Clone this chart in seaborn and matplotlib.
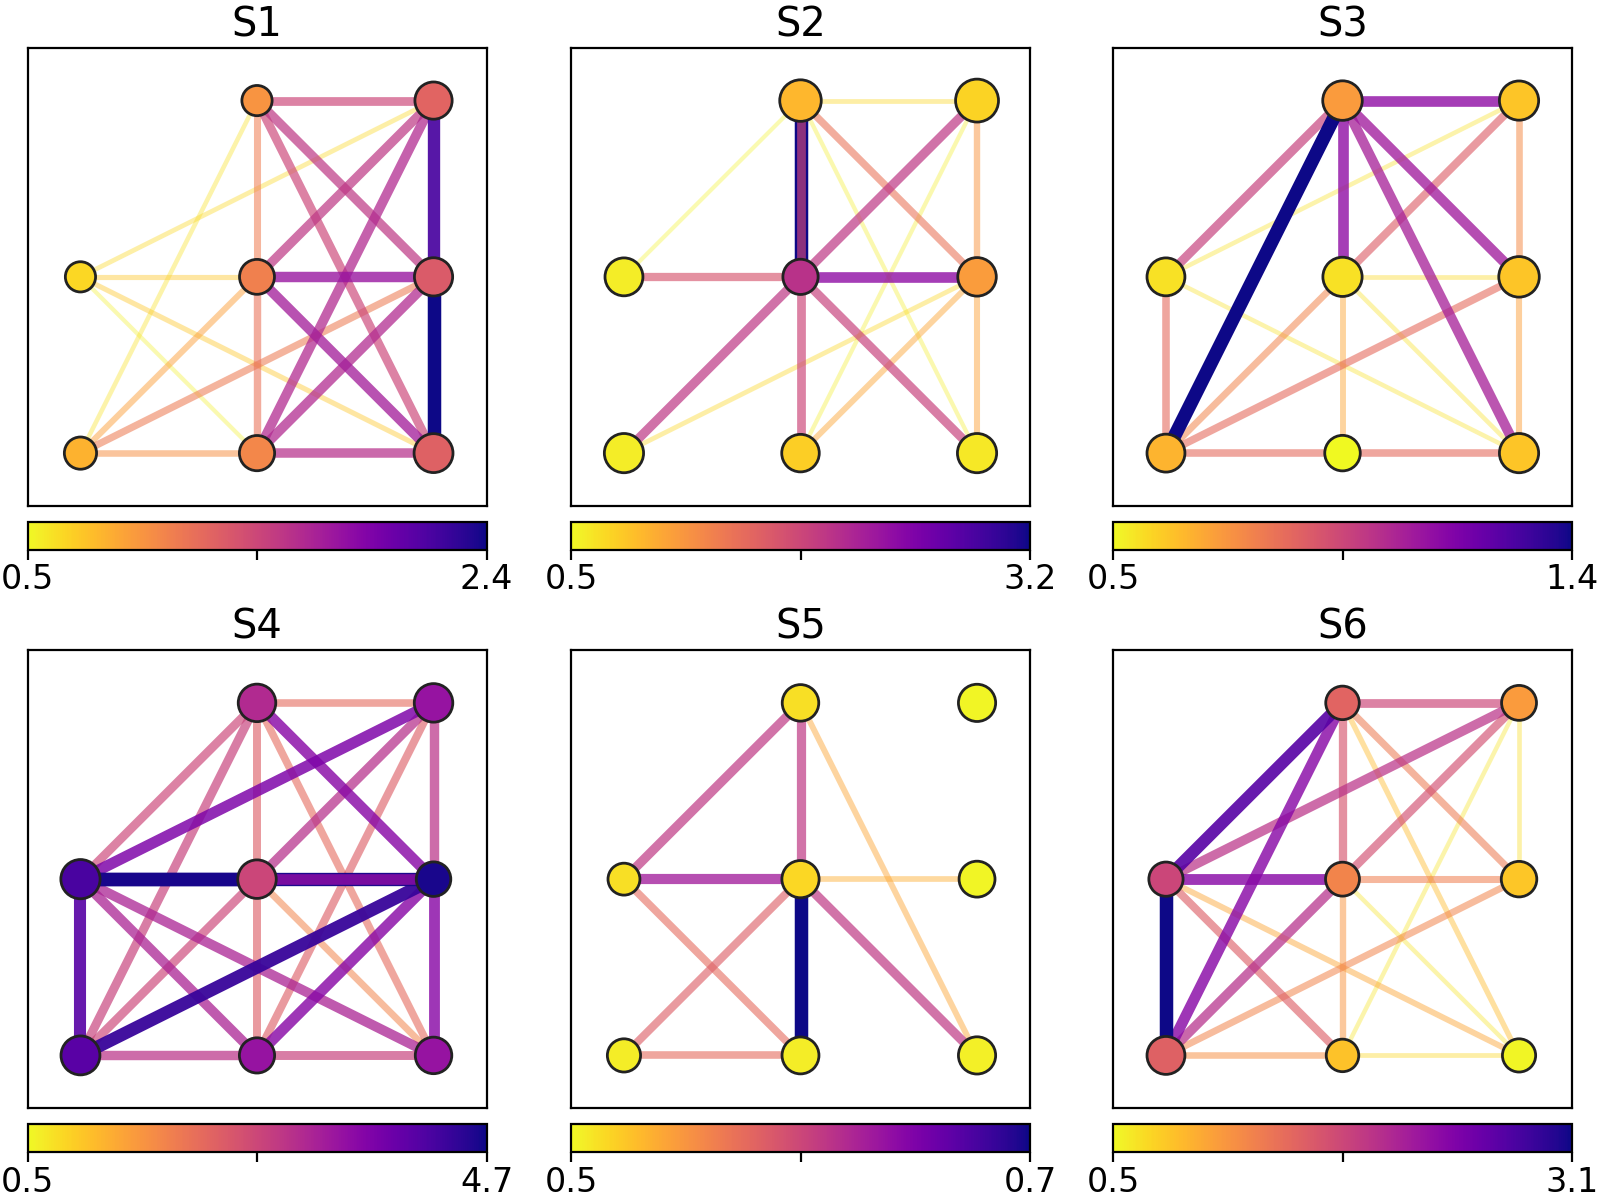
import matplotlib
matplotlib.use("Agg")
import matplotlib.pyplot as plt
from matplotlib.colors import Normalize
from matplotlib.cm import ScalarMappable
import seaborn as sns

# Nodi sulla griglia 3x3 (manca l'angolo in alto a sinistra)
node_names = ["A", "B", "C", "D", "E", "F", "G", "H"]
node_x = [0, 0, 1, 1, 1, 2, 2, 2]
node_y = [1, 0, 2, 1, 0, 2, 1, 0]

titles = ["S1", "S2", "S3", "S4", "S5", "S6"]
vmin = 0.5
vmaxs = [2.4, 3.2, 1.4, 4.7, 0.7, 3.1]

# Archi (nodo, nodo, peso) nell'ordine di disegno
s1_edges = [("A", "E", 0.54), ("B", "C", 0.61), ("A", "F", 0.65), ("A", "D", 0.73),
            ("A", "H", 0.73), ("B", "D", 0.92), ("B", "E", 1.01), ("C", "D", 1.11),
            ("B", "G", 1.13), ("D", "E", 1.18), ("C", "F", 1.45), ("C", "H", 1.45),
            ("C", "G", 1.55), ("D", "F", 1.55), ("E", "H", 1.60), ("E", "F", 1.64),
            ("E", "G", 1.64), ("D", "H", 1.72), ("D", "G", 1.79), ("F", "G", 2.17),
            ("G", "H", 2.40)]
s2_edges = [("A", "C", 0.55), ("C", "H", 0.58), ("E", "F", 0.58), ("C", "F", 0.72),
            ("B", "G", 0.72), ("E", "G", 1.04), ("G", "H", 1.09), ("F", "G", 1.18),
            ("C", "G", 1.45), ("A", "D", 1.72), ("D", "H", 1.90), ("D", "F", 1.99),
            ("B", "D", 1.99), ("D", "G", 2.39), ("C", "D", 3.20), ("C", "E", 1.85)]
s3_edges = [("A", "F", 0.55), ("D", "H", 0.55), ("A", "H", 0.55), ("D", "G", 0.57),
            ("D", "E", 0.68), ("G", "H", 0.70), ("F", "G", 0.75), ("B", "D", 0.77),
            ("A", "B", 0.84), ("B", "E", 0.84), ("E", "H", 0.84), ("B", "G", 0.84),
            ("D", "F", 0.88), ("A", "C", 0.97), ("C", "H", 1.07), ("C", "G", 1.09),
            ("C", "D", 1.13), ("C", "F", 1.13), ("B", "C", 1.40)]
s4_edges = [("D", "H", 1.76), ("C", "F", 2.10), ("C", "H", 2.10), ("C", "D", 2.26),
            ("D", "E", 2.26), ("E", "F", 2.26), ("A", "C", 2.60), ("B", "D", 2.60),
            ("B", "C", 2.68), ("E", "H", 2.68), ("B", "E", 2.89), ("F", "G", 2.89),
            ("D", "F", 2.94), ("A", "E", 3.10), ("A", "H", 3.10), ("C", "G", 3.52),
            ("G", "H", 3.52), ("E", "G", 3.52), ("A", "F", 3.65), ("A", "B", 4.07),
            ("B", "G", 4.36), ("A", "D", 4.70), ("A", "G", 4.62), ("D", "G", 3.44)]
s5_edges = [("D", "G", 0.536), ("C", "H", 0.54), ("A", "E", 0.576), ("B", "E", 0.576),
            ("B", "D", 0.584), ("A", "C", 0.61), ("C", "D", 0.61), ("D", "H", 0.61),
            ("A", "D", 0.63), ("D", "E", 0.70)]
s6_edges = [("D", "H", 0.63), ("E", "F", 0.63), ("F", "G", 0.68), ("E", "H", 0.71),
            ("C", "H", 0.89), ("A", "H", 1.02), ("D", "E", 1.15), ("B", "E", 1.20),
            ("B", "G", 1.28), ("D", "G", 1.33), ("C", "G", 1.36), ("A", "E", 1.59),
            ("C", "D", 1.67), ("D", "F", 1.72), ("C", "F", 1.80), ("A", "F", 1.98),
            ("B", "D", 2.01), ("A", "D", 2.37), ("B", "C", 2.37), ("A", "C", 2.71),
            ("A", "B", 3.10)]

# Valore e dimensione (diametro in px) dei nodi, ordine A..H
s1_nodes = [0.65, 0.82, 0.98, 1.09, 1.05, 1.26, 1.32, 1.28]
s2_nodes = [0.58, 0.58, 0.93, 2.04, 0.77, 0.74, 1.12, 0.61]
s3_nodes = [0.55, 0.65, 0.71, 0.55, 0.50, 0.61, 0.61, 0.61]
s4_nodes = [4.20, 4.03, 3.02, 2.60, 3.36, 3.36, 4.62, 3.36]
s5_nodes = [0.512, 0.506, 0.512, 0.516, 0.506, 0.502, 0.502, 0.504]
s6_nodes = [1.80, 1.57, 1.54, 1.28, 0.84, 1.10, 0.81, 0.53]

s1_size = [33, 35, 33, 37.7, 38, 40, 41, 41.7]
s2_size = [40.7, 42, 44.3, 38, 40.3, 45.7, 41.3, 42]
s3_size = [40.7, 40.7, 42.3, 42, 38.3, 42, 43.3, 42]
s4_size = [42, 41.7, 40.3, 41.3, 38, 41.3, 37.3, 39.3]
s5_size = [34.7, 36, 39.3, 40, 39.7, 40, 38.7, 40]
s6_size = [37, 40.7, 36.3, 36.7, 35.3, 37.7, 38.3, 36]

all_edges = [s1_edges, s2_edges, s3_edges, s4_edges, s5_edges, s6_edges]
all_nodes = [s1_nodes, s2_nodes, s3_nodes, s4_nodes, s5_nodes, s6_nodes]
all_sizes = [s1_size, s2_size, s3_size, s4_size, s5_size, s6_size]

sns.set_style("white", {"axes.edgecolor": "black", "text.color": "black",
                        "xtick.color": "black", "xtick.bottom": True})
plt.rcParams["font.family"] = ["DejaVu Sans"]
plt.rcParams["axes.linewidth"] = 0.8

cmap = sns.color_palette("plasma_r", as_cmap=True)
pos = {n: (x, y) for n, x, y in zip(node_names, node_x, node_y)}

DPI = 200
fig = plt.figure(figsize=(8, 6), dpi=DPI)

col_left = [27.5, 571, 1113]
row_top = [47.7, 650]
ax_w, ax_h = 459, 458.3
cb_gap, cb_h = 16, 27.5

for i in range(6):
    r, c = divmod(i, 3)
    left = col_left[c] / 1600
    bottom = 1 - (row_top[r] + ax_h) / 1200
    ax = fig.add_axes([left, bottom, ax_w / 1600, ax_h / 1200])
    cax = fig.add_axes([left, 1 - (row_top[r] + ax_h + cb_gap + cb_h) / 1200,
                        ax_w / 1600, cb_h / 1200])

    vmax = vmaxs[i]
    norm = Normalize(vmin=vmin, vmax=vmax)

    # archi: colore, spessore e trasparenza crescono con il peso
    for u, v, w in all_edges[i]:
        t = norm(w)
        ax.plot([pos[u][0], pos[v][0]], [pos[u][1], pos[v][1]],
                color=cmap(t), lw=1.44 + 3.42 * t, alpha=0.35 + 0.65 * t,
                solid_capstyle="butt", zorder=1)

    # nodi
    sizes = [(d * 72 / DPI - 1.0) ** 2 for d in all_sizes[i]]
    sns.scatterplot(x=node_x, y=node_y, hue=all_nodes[i], palette=cmap,
                    hue_norm=norm, s=sizes, edgecolor="#222222", linewidth=1.0,
                    legend=False, ax=ax, zorder=3)

    ax.set_xlim(-0.3, 2.3)
    ax.set_ylim(-0.3, 2.3)
    ax.set_xticks([])
    ax.set_yticks([])
    ax.set_xlabel("")
    ax.set_ylabel("")
    ax.set_title(titles[i], fontsize=14.4, pad=4)

    sm = ScalarMappable(norm=norm, cmap=cmap)
    cb = fig.colorbar(sm, cax=cax, orientation="horizontal")
    cb.set_ticks([vmin, (vmin + vmax) / 2, vmax])
    cb.set_ticklabels([f"{vmin:.1f}", "", f"{vmax:.1f}"])
    cb.ax.tick_params(labelsize=12, length=3.5, width=0.8, color="black", pad=1.5)
    cb.outline.set_linewidth(0.8)

fig.savefig("out.png", dpi=DPI)
